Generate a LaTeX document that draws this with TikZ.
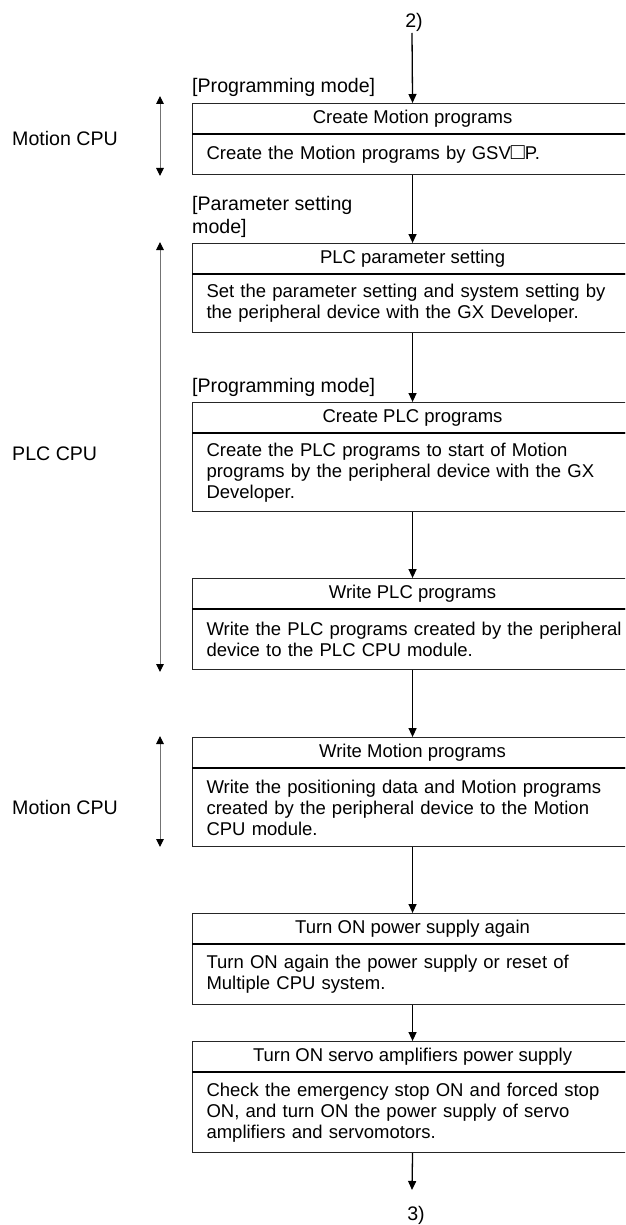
\documentclass[tikz,border=0pt]{standalone}
\usepackage{fontspec}
\setmainfont{Liberation Sans}
\usetikzlibrary{arrows.meta}
\tikzset{
  boxfont/.style={font=\fontsize{18.5}{21}\selectfont},
  lblfont/.style={font=\fontsize{19.6}{22.5}\selectfont},
  hdr/.style={boxfont, draw=black!85, line width=1.1pt, anchor=north west,
    minimum width=440pt, minimum height=30pt, inner sep=0pt},
  body/.style={boxfont, draw=black!85, line width=1.1pt, anchor=north west,
    text width=440pt, inner xsep=14pt, inner ysep=0pt, align=left},
  sepline/.style={black, line width=1.7pt},
  flow/.style={black, line width=1.3pt, -{Triangle[length=9pt,width=8pt]}},
  side/.style={draw=black!55, line width=1pt,
    {Triangle[length=8pt,width=7.5pt,color=black]}-{Triangle[length=8pt,width=7.5pt,color=black]}},
  lbl/.style={lblfont, inner sep=0pt},
}
\begin{document}
\begin{tikzpicture}[x=1pt,y=-1pt]
\useasboundingbox[fill=white] (0,0) rectangle (625,1225);
\clip (0,0) rectangle (625,1225);

% connector labels
\node[lbl] (t2) at (414,22) {2)};
\node[lbl] (t3) at (416,1215) {3)};

% mode labels
\node[lbl, anchor=base west] (m1) at (192,93) {[Programming mode]};
\node[lbl, anchor=west, align=left] (m2) at (192,217) {[Parameter setting\\mode]};
\node[lbl, anchor=base west] (m3) at (192,392) {[Programming mode]};

% boxes
\node[hdr] (h1) at (192,103) {Create Motion programs};
\node[body, minimum height=40pt] (b1) at (h1.south west) {Create the Motion programs by GSV\scalebox{1.25}{□}P.};

\node[hdr] (h2) at (192,243) {PLC parameter setting};
\node[body, minimum height=58pt] (b2) at (h2.south west) {Set the parameter setting and system setting by\\the peripheral device with the GX Developer.};

\node[hdr] (h3) at (192,402) {Create PLC programs};
\node[body, minimum height=78pt] (b3) at (h3.south west) {Create the PLC programs to start of Motion\\programs by the peripheral device with the GX\\Developer.};

\node[hdr] (h4) at (192,578) {Write PLC programs};
\node[body, minimum height=60pt] (b4) at (h4.south west) {Write the PLC programs created by the peripheral\\device to the PLC CPU module.};

\node[hdr] (h5) at (192,737) {Write Motion programs};
\node[body, minimum height=78pt] (b5) at (h5.south west) {Write the positioning data and Motion programs\\created by the peripheral device to the Motion\\CPU module.};

\node[hdr] (h6) at (192,913) {Turn ON power supply again};
\node[body, minimum height=60pt] (b6) at (h6.south west) {Turn ON again the power supply or reset of\\Multiple CPU system.};

\node[hdr] (h7) at (192,1041) {Turn ON servo amplifiers power supply};
\node[body, minimum height=80pt] (b7) at (h7.south west) {Check the emergency stop ON and forced stop\\ON, and turn ON the power supply of servo\\amplifiers and servomotors.};

\foreach \i in {1,...,7} {\draw[sepline] (h\i.south west) -- (h\i.south east);}

% flow connectors
\coordinate (s2) at (412,33);
\coordinate (e3) at (412,1190);
\draw[flow] (s2) -- (h1.north);
\draw[flow] (b1.south -| h1.north) -- (h2.north);
\draw[flow] (b2.south -| h2.north) -- (h3.north);
\draw[flow] (b3.south -| h3.north) -- (h4.north);
\draw[flow] (b4.south -| h4.north) -- (h5.north);
\draw[flow] (b5.south -| h5.north) -- (h6.north);
\draw[flow] (b6.south -| h6.north) -- (h7.north);
\draw[flow] (b7.south -| h7.north) -- (e3);

% side labels and ranges
\node[lbl, anchor=west] (c1) at (12,138) {Motion CPU};
\node[lbl, anchor=west] (c2) at (12,454) {PLC CPU};
\node[lbl, anchor=west] (c3) at (12,807) {Motion CPU};
\coordinate (r1a) at (160,96);  \coordinate (r1b) at (160,176);
\coordinate (r2a) at (160,242); \coordinate (r2b) at (160,672);
\coordinate (r3a) at (160,736); \coordinate (r3b) at (160,847);
\draw[side] (r1a) -- (r1b);
\draw[side] (r2a) -- (r2b);
\draw[side] (r3a) -- (r3b);
\end{tikzpicture}
\end{document}
